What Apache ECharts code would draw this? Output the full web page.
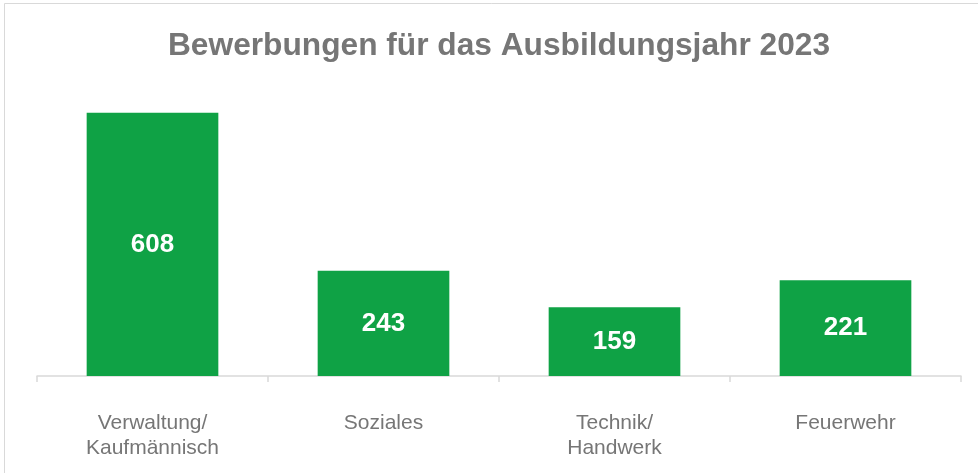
<!DOCTYPE html>
<html><head><meta charset="utf-8">
<script src="https://cdn.jsdelivr.net/npm/echarts@6/dist/echarts.min.js"></script>
<style>html,body{margin:0;padding:0;background:#fff}#c{width:978px;height:473px}</style>
</head><body><div id="c"></div>
<script>
const titleText = 'Bewerbungen für das Ausbildungsjahr 2023';
const categories = ['Verwaltung/\nKaufmännisch', 'Soziales', 'Technik/\nHandwerk', 'Feuerwehr'];
const values = [608, 243, 159, 221];

const chart = echarts.init(document.getElementById('c'), null, {renderer: 'canvas'});
chart.setOption({
  animation: false,
  backgroundColor: '#ffffff',
  title: {
    text: titleText, left: 494, textAlign: 'center', top: 25,
    textStyle: {fontFamily: 'Liberation Sans, Arial', fontWeight: 'bold', fontSize: 31.7, color: '#767676'}
  },
  graphic: [{
    type: 'rect', shape: {x: 4.5, y: 3.5, width: 1000, height: 1000},
    style: {fill: 'none', stroke: '#d9d9d9', lineWidth: 1}, silent: true, z: -1
  }],
  grid: {left: 37, right: 17, top: 73, bottom: 97, containLabel: false},
  xAxis: {
    type: 'category', data: categories,
    axisLine: {lineStyle: {color: '#d9d9d9', width: 1.5}},
    axisTick: {show: true, length: 6, lineStyle: {color: '#d9d9d9', width: 1.5}},
    axisLabel: {fontFamily: 'Liberation Sans, Arial', fontSize: 21, color: '#767676', margin: 35, lineHeight: 25}
  },
  yAxis: {
    type: 'value', min: 0, max: 700, show: false,
    splitLine: {show: false}
  },
  series: [{
    type: 'bar', data: values, barWidth: '57%',
    itemStyle: {color: '#0fa245'},
    label: {show: true, position: 'inside', color: '#ffffff', fontFamily: 'Liberation Sans, Arial', fontWeight: 'bold', fontSize: 26}
  }]
});
</script></body></html>
